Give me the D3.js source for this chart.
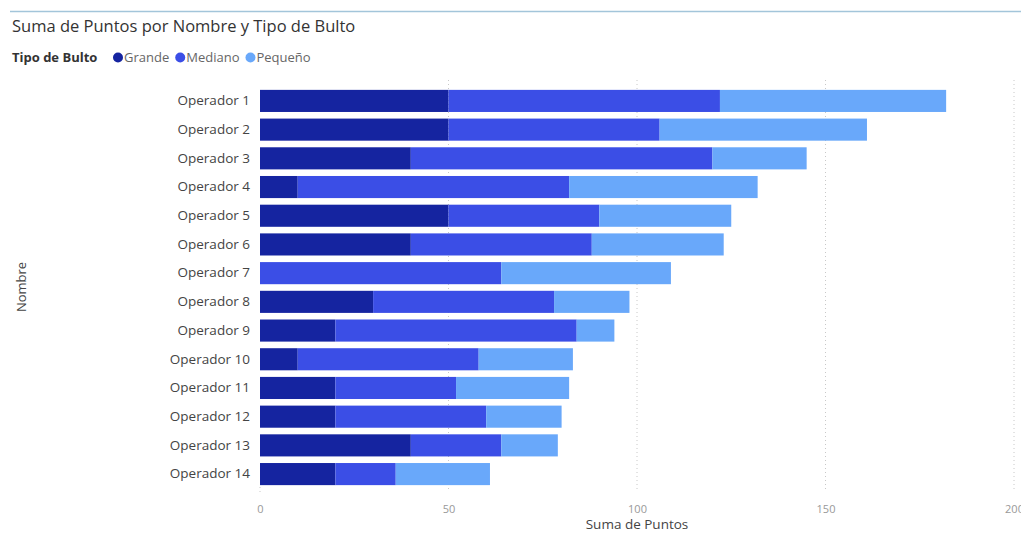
<!DOCTYPE html>
<html><head><meta charset="utf-8">
<script src="https://cdn.jsdelivr.net/npm/d3@7"></script>
<style>body{margin:0;background:#fff;} svg{display:block;font-family:"Open Sans","Segoe UI",sans-serif;}</style>
</head><body>
<svg id="c" width="1021" height="533"></svg>
<script>
const categories = ["Operador 1","Operador 2","Operador 3","Operador 4","Operador 5","Operador 6","Operador 7","Operador 8","Operador 9","Operador 10","Operador 11","Operador 12","Operador 13","Operador 14"];
const seriesNames = ["Grande","Mediano","Pequeño"];
const grande  = [50,50,40,10,50,40,0,30,20,10,20,20,40,20];
const mediano = [72,56,80,72,40,48,64,48,64,48,32,40,24,16];
const pequeno = [60,55,25,50,35,35,45,20,10,25,30,20,15,25];
const xTicks = [0,50,100,150,200];
const colors = ["#1524A0","#3B4EE6","#69A8FA"];

const svg = d3.select("#c");
const rows = categories.map((c,i)=>({name:c, Grande:grande[i], Mediano:mediano[i], "Pequeño":pequeno[i]}));
const stack = d3.stack().keys(seriesNames)(rows);

const x = d3.scaleLinear().domain([0,200]).range([260,1014]);
const y = d3.scaleBand().domain(categories).range([87,488]).paddingInner(0.23).paddingOuter(0.1);

// top line
svg.append("line").attr("x1",10).attr("x2",1021).attr("y1",11.5).attr("y2",11.5).attr("stroke","#A3C5DA").attr("stroke-width",1.5);

// title
svg.append("text").attr("x",12).attr("y",32).attr("font-size",16.5).attr("fill","#333").text("Suma de Puntos por Nombre y Tipo de Bulto");

// legend
const lg = svg.append("g").attr("transform","translate(12,62)");
lg.append("text").attr("x",0).attr("y",0).attr("font-size",13).attr("font-weight","bold").attr("fill","#333").text("Tipo de Bulto");
let lx = 101;
seriesNames.forEach((s,i)=>{
  lg.append("circle").attr("cx",lx+5).attr("cy",-4.5).attr("r",5).attr("fill",colors[i]);
  const t = lg.append("text").attr("x",lx+11).attr("y",0).attr("font-size",13).attr("fill","#666").text(s);
  lx += 11 + t.node().getComputedTextLength() + 6;
});

// gridlines
svg.append("g").selectAll("line").data(xTicks.filter(d=>d>0)).join("line")
  .attr("x1",d=>x(d)).attr("x2",d=>x(d)).attr("y1",80).attr("y2",492)
  .attr("stroke","#C8C8C8").attr("stroke-width",1).attr("stroke-dasharray","1,3");
svg.append("line").attr("x1",x(0)).attr("x2",x(0)).attr("y1",487).attr("y2",492)
  .attr("stroke","#C8C8C8").attr("stroke-dasharray","1,3");

// bars
svg.append("g").selectAll("g").data(stack).join("g").attr("fill",(d,i)=>colors[i])
  .selectAll("rect").data(d=>d).join("rect")
  .attr("x",d=>x(d[0])).attr("width",d=>x(d[1])-x(d[0]))
  .attr("y",d=>y(d.data.name)).attr("height",y.bandwidth());

// x axis
const xa = svg.append("g").attr("transform","translate(0,509)")
  .call(d3.axisBottom(x).tickValues(xTicks).tickSize(0).tickPadding(0));
xa.select(".domain").remove();
xa.selectAll("text").attr("font-size",11).attr("fill","#999").attr("font-family","'Open Sans',sans-serif").attr("dy","0.32em");

// y axis
const ya = svg.append("g").attr("transform","translate(250,0)")
  .call(d3.axisLeft(y).tickSize(0).tickPadding(0));
ya.select(".domain").remove();
ya.selectAll("text").attr("font-size",13.5).attr("fill","#444").attr("font-family","'Open Sans',sans-serif");

// axis titles
svg.append("text").attr("x",637).attr("y",529).attr("text-anchor","middle").attr("font-size",13.5).attr("fill","#444").text("Suma de Puntos");
svg.append("text").attr("transform","translate(26,287) rotate(-90)").attr("text-anchor","middle").attr("font-size",13).attr("fill","#444").text("Nombre");
</script>
</body></html>
